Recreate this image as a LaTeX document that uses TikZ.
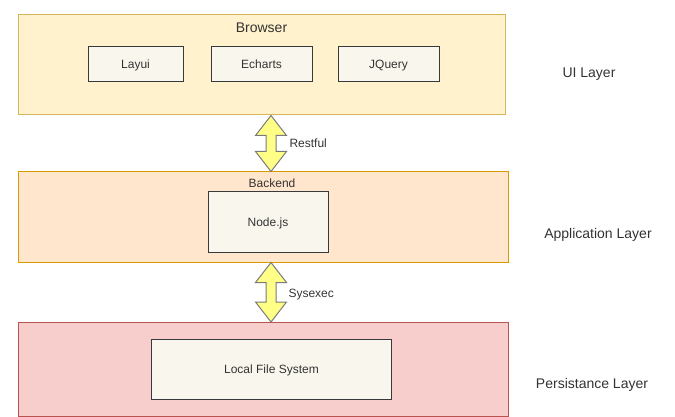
\documentclass[tikz,border=0pt]{standalone}
\usepackage{fontspec}
\setmainfont{Liberation Sans}
\definecolor{uifill}{HTML}{FFF2CC}
\definecolor{uiline}{HTML}{D6B656}
\definecolor{appfill}{HTML}{FFE6CC}
\definecolor{appline}{HTML}{D79B00}
\definecolor{perfill}{HTML}{F8CECC}
\definecolor{perline}{HTML}{B85450}
\definecolor{boxfill}{HTML}{F9F7ED}
\definecolor{boxline}{HTML}{36393D}
\definecolor{arrowfill}{HTML}{FFFF88}
\definecolor{arrowline}{HTML}{7A7A7A}
\definecolor{txtgray}{HTML}{333333}
\begin{document}
\begin{tikzpicture}
  [x=1pt,y=-1pt,line width=1pt,
   smallT/.style={text=txtgray,font=\fontsize{12}{14}\selectfont,inner sep=0pt,
                  text height=8.6pt,text depth=0pt},
   bigT/.style={text=txtgray,font=\fontsize{14}{16}\selectfont,inner sep=0pt,
                text height=10pt,text depth=0pt},
   layerN/.style={rectangle,inner sep=0pt,minimum width=490pt},
   innerN/.style={rectangle,draw=boxline,fill=boxfill,inner sep=0pt,
                  minimum height=35pt,smallT},
   fatArrow/.style={draw=arrowline,fill=arrowfill,line join=miter}]

  \useasboundingbox (0,0) rectangle (675,417);

  % layers
  \node[layerN,draw=uiline,fill=uifill,minimum width=487pt,minimum height=100pt]
    (ui) at (261.5,65) {};
  \node[layerN,draw=appline,fill=appfill,minimum height=90pt]
    (app) at (263,217) {};
  \node[layerN,draw=perline,fill=perfill,minimum height=94pt]
    (per) at (263,369.5) {};

  \node[bigT] (browser) at (261.5,28) {Browser};
  \node[smallT] (backend) at (272,183) {Backend};

  % inner boxes
  \node[innerN,minimum width=95pt]  (layui)   at (135.5,64.5) {Layui};
  \node[innerN,minimum width=101pt] (echarts) at (261.5,64.5) {Echarts};
  \node[innerN,minimum width=101pt] (jquery)  at (388.5,64.5) {JQuery};
  \node[innerN,minimum width=120pt,minimum height=60pt] (node) at (268,222) {Node.js};
  \node[innerN,minimum width=240pt,minimum height=60pt] (lfs)  at (271.5,369) {Local File System};

  % layer names
  \node[bigT] (uiL)  at (589,73)  {UI Layer};
  \node[bigT] (appL) at (598,233) {Application Layer};
  \node[bigT] (perL) at (592,383) {Persistance Layer};

  % arrows
  \coordinate (rt) at ([xshift=9.5pt]ui.south);
  \coordinate (rb) at ([xshift=8pt]app.north);
  \coordinate (st) at ([xshift=8pt]app.south);
  \coordinate (sb) at ([xshift=8pt]per.north);

  \draw[fatArrow] (rt) -- ++(15.5,20) -- ++(-10.5,0) -- ([shift={(5,-20)}]rb)
    -- ++(10.5,0) -- (rb) -- ++(-15.5,-20) -- ++(10.5,0)
    -- ([shift={(-5,20)}]rt) -- ++(-10.5,0) -- cycle;
  \draw[fatArrow] (st) -- ++(15.5,20) -- ++(-10.5,0) -- ([shift={(5,-20)}]sb)
    -- ++(10.5,0) -- (sb) -- ++(-15.5,-20) -- ++(10.5,0)
    -- ([shift={(-5,20)}]st) -- ++(-10.5,0) -- cycle;

  \node[smallT,anchor=west] (restful) at (289,143) {Restful};
  \node[smallT,anchor=west] (sysexec) at (288,293) {Sysexec};
\end{tikzpicture}
\end{document}
